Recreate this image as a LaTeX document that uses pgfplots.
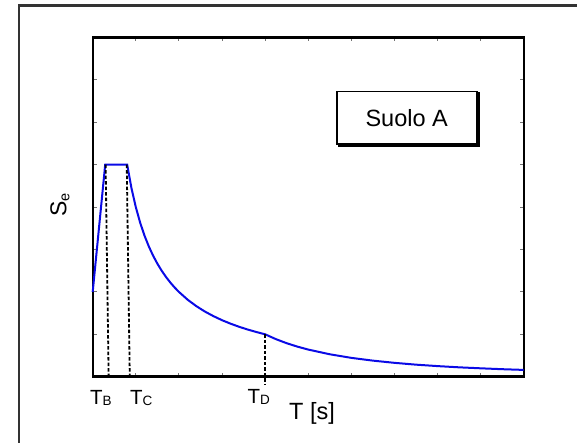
\documentclass[border=0pt]{standalone}
\usepackage{pgfplots}
\pgfplotsset{compat=1.18}
\usepackage{fontspec}
\setmainfont{Liberation Sans}
\definecolor{curveblue}{RGB}{10,10,230}
\begin{document}
\begin{tikzpicture}
\useasboundingbox (0pt,0pt) rectangle (577pt,443pt);
\draw[line width=2.2pt, black!80] (19pt,-5pt) -- (19pt,437.5pt) -- (585pt,437.5pt);
\begin{axis}[
  at={(92.7pt,66.3pt)}, anchor=south west,
  scale only axis, width=431pt, height=339.2pt,
  xmin=0, xmax=10, ymin=0, ymax=8,
  xtick={1,...,9}, ytick={1,...,7},
  xticklabels={}, yticklabels={},
  tick align=inside, major tick length=4pt,
  tick style={black!55, line width=1pt},
  axis line style={line width=2.4pt},
  clip=false,
]
\addplot[curveblue, line width=2pt] coordinates {
(0,2) (0.29,5) (0.80,5) (0.9,4.444) (1.0,4) (1.1,3.636) (1.2,3.333) (1.3,3.077)
(1.4,2.857) (1.5,2.667) (1.6,2.5) (1.7,2.353) (1.8,2.222) (1.9,2.105) (2.0,2)
(2.2,1.818) (2.4,1.667) (2.6,1.538) (2.8,1.429) (3.0,1.333) (3.2,1.25) (3.4,1.176)
(3.6,1.111) (3.8,1.053) (4.0,1) (4.25,0.886) (4.5,0.790) (4.75,0.709) (5,0.64)
(5.5,0.529) (6,0.444) (6.5,0.379) (7,0.327) (7.5,0.284) (8,0.25) (8.5,0.221)
(9,0.198) (9.5,0.177) (10,0.16)
};
\addplot[black, line width=1.8pt, dash pattern=on 3.5pt off 2pt] coordinates {(0.30,5) (0.37,0)};
\addplot[black, line width=1.8pt, dash pattern=on 3.5pt off 2pt] coordinates {(0.79,5) (0.86,0)};
\addplot[black, line width=1.8pt, dash pattern=on 3.5pt off 2pt] coordinates {(3.99,1.0) (3.99,-0.18)};
\end{axis}
% Tick labels
\node[anchor=base west, inner sep=0pt, font=\fontsize{20.5}{24}\selectfont] at (90pt,38pt) {T\raisebox{-1pt}{\fontsize{13.5}{14}\selectfont B}};
\node[anchor=base west, inner sep=0pt, font=\fontsize{20.5}{24}\selectfont] at (130pt,38pt) {T\raisebox{-1pt}{\fontsize{13.5}{14}\selectfont C}};
\node[anchor=base west, inner sep=0pt, font=\fontsize{20.5}{24}\selectfont] at (247.3pt,39.5pt) {T\raisebox{-1pt}{\fontsize{13.5}{14}\selectfont D}};
% Axis labels
\node[anchor=base west, inner sep=0pt, font=\fontsize{23.5}{27}\selectfont] at (289pt,23.7pt) {T [s]};
\node[rotate=90, inner sep=0pt, font=\fontsize{23}{26}\selectfont] at (60pt,238pt) {S\raisebox{-3pt}{\fontsize{14.5}{15}\selectfont e}};
% Annotation box
\draw[line width=1.6pt] (336.7pt,298.7pt) rectangle (476.7pt,351.3pt);
\draw[line width=2.6pt] (478.3pt,350.5pt) -- (478.3pt,297.2pt) -- (338pt,297.2pt);
\node[inner sep=0pt, font=\fontsize{23.5}{27}\selectfont] at (406.7pt,325pt) {Suolo A};
\end{tikzpicture}
\end{document}
